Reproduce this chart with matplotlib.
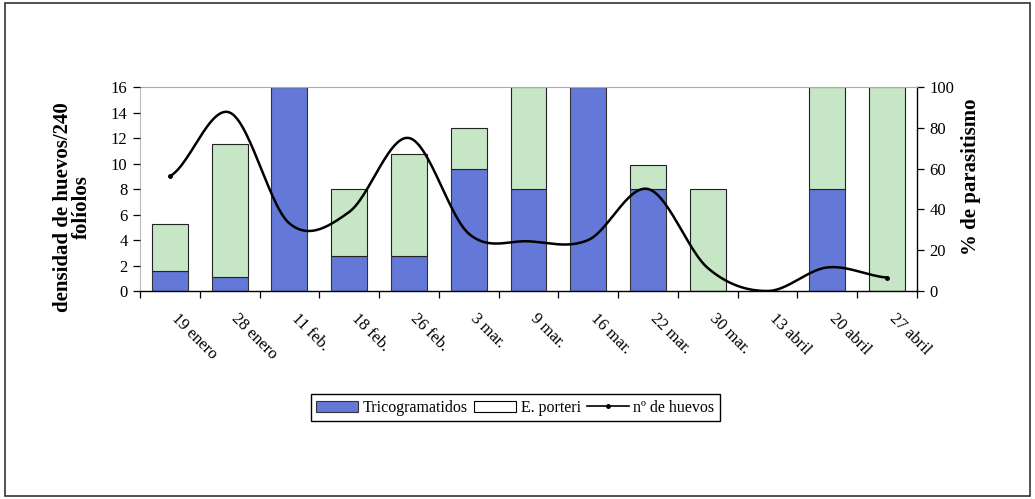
import matplotlib
matplotlib.use("Agg")
import matplotlib.pyplot as plt
import matplotlib.transforms as mtransforms
from matplotlib.patches import Patch, Rectangle
from matplotlib.lines import Line2D
import numpy as np

plt.rcParams['font.family'] = ['Liberation Serif', 'DejaVu Serif']

# data
fechas = ['19 enero', '28 enero', '11 feb.', '18 feb.', '26 feb.', '3 mar.', '9 mar.',
          '16 mar.', '22 mar.', '30 mar.', '13 abril', '20 abril', '27 abril']
tricogramatidos = [10, 7, 100, 17, 17, 60, 50, 100, 50, 0, 0, 50, 0]   # % parasitismo
e_porteri = [23, 65, 0, 33, 50, 20, 50, 0, 12, 50, 0, 50, 100]          # % parasitismo
huevos = [9.0, 14.0, 5.3, 6.2, 12.0, 4.5, 3.9, 4.0, 8.0, 1.8, 0.0, 1.85, 1.05]  # densidad

azul = '#6478d8'
verde = '#c6e6c6'


def smooth(xs, ys, n=30):
    # Catmull-Rom curve through the points (like Excel "smoothed line")
    xs = np.asarray(xs, float)
    ys = np.asarray(ys, float)
    px = np.concatenate([[2 * xs[0] - xs[1]], xs, [2 * xs[-1] - xs[-2]]])
    py = np.concatenate([[ys[0]], ys, [ys[-1]]])
    outx, outy = [], []
    t = np.linspace(0, 1, n)
    for i in range(1, len(px) - 2):
        m0x, m1x = (px[i + 1] - px[i - 1]) / 2, (px[i + 2] - px[i]) / 2
        m0y, m1y = (py[i + 1] - py[i - 1]) / 2, (py[i + 2] - py[i]) / 2
        h00 = 2 * t**3 - 3 * t**2 + 1
        h10 = t**3 - 2 * t**2 + t
        h01 = -2 * t**3 + 3 * t**2
        h11 = t**3 - t**2
        outx.append(h00 * px[i] + h10 * m0x + h01 * px[i + 1] + h11 * m1x)
        outy.append(h00 * py[i] + h10 * m0y + h01 * py[i + 1] + h11 * m1y)
    return np.concatenate(outx), np.concatenate(outy)


fig = plt.figure(figsize=(10.35, 4.99), dpi=100)
ax = fig.add_axes([140 / 1035, 1 - 291 / 499, 777 / 1035, 204 / 499])
x = np.arange(len(fechas))

# stacked bars on the % axis (right)
ax.bar(x, tricogramatidos, width=0.6, color=azul, edgecolor='#333333', linewidth=0.8, zorder=2)
ax.bar(x, e_porteri, width=0.6, bottom=tricogramatidos, color=verde,
       edgecolor='#222222', linewidth=0.8, zorder=2)
ax.set_ylim(0, 100)
ax.set_xlim(-0.5, len(fechas) - 0.5)

# line on the density axis (left)
ax2 = ax.twinx()
sx, sy = smooth(x, huevos)
ax2.plot(sx, sy, color='black', linewidth=1.8, zorder=3)
ax2.plot(x[[0, -1]], np.array(huevos)[[0, -1]], 'o', color='black', markersize=2.5)
ax2.set_ylim(0, 16)
ax2.set_yticks(range(0, 17, 2))

# swap sides: bars axis on the right, line axis on the left
ax.yaxis.tick_right()
ax.yaxis.set_label_position('right')
ax2.yaxis.tick_left()
ax2.yaxis.set_label_position('left')
ax.set_yticks(range(0, 101, 20))
ax.set_ylabel('% de parasitismo', fontsize=15, fontweight='bold')
ax.yaxis.set_label_coords(1.057, 0.56)
ax2.set_ylabel('densidad de huevos/240\nfolíolos', fontsize=15, fontweight='bold',
               linespacing=0.95)
ax2.yaxis.set_label_coords(-0.062, 0.41)

for a in (ax, ax2):
    a.tick_params(axis='y', labelsize=12, length=5, width=0.9, pad=4)
    for s in a.spines.values():
        s.set_visible(False)
ax.spines['right'].set_visible(True)
ax.spines['right'].set_linewidth(1.0)
ax.spines['bottom'].set_visible(True)
ax.spines['bottom'].set_linewidth(1.0)
ax.spines['top'].set_visible(True)
ax.spines['top'].set_color('#aaaaaa')
ax.spines['left'].set_visible(True)
ax.spines['left'].set_color('#bbbbbb')

# x ticks at category boundaries, labels at centres
ax.set_xticks(x)
ax.set_xticklabels([])
ax.tick_params(axis='x', which='major', length=0)
ax.set_xticks(np.arange(len(fechas) + 1) - 0.5, minor=True)
ax.tick_params(axis='x', which='minor', length=5, width=0.9, direction='out')
ax2.tick_params(axis='x', length=0)

off = mtransforms.ScaledTranslation(10 / 100, -20 / 100, fig.dpi_scale_trans)
for xi, lab in zip(x, fechas):
    ax.text(xi, 0, lab, transform=ax.get_xaxis_transform() + off, rotation=-45,
            rotation_mode='anchor', ha='left', va='top', fontsize=12)

handles = [Patch(facecolor=azul, edgecolor='#333333', linewidth=0.8),
           Patch(facecolor='white', edgecolor='black', linewidth=0.8),
           Line2D([], [], color='black', linewidth=1.2, marker='o', markersize=2.5)]
fig.legend(handles, ['Tricogramatidos', 'E. porteri', 'nº de huevos'], loc='center',
           bbox_to_anchor=(0.498, 0.183), ncol=3, fontsize=11.5, frameon=True, fancybox=False,
           edgecolor='black', framealpha=1, handlelength=2.6, handleheight=0.7,
           columnspacing=0.4, handletextpad=0.3, borderpad=0.35)

# outer chart frame
fig.patches.append(Rectangle((5 / 1035, 3 / 499), 1025 / 1035, 493 / 499, transform=fig.transFigure,
                             fill=False, edgecolor='#333333', linewidth=1.2))

fig.savefig('out.png', dpi=100)
